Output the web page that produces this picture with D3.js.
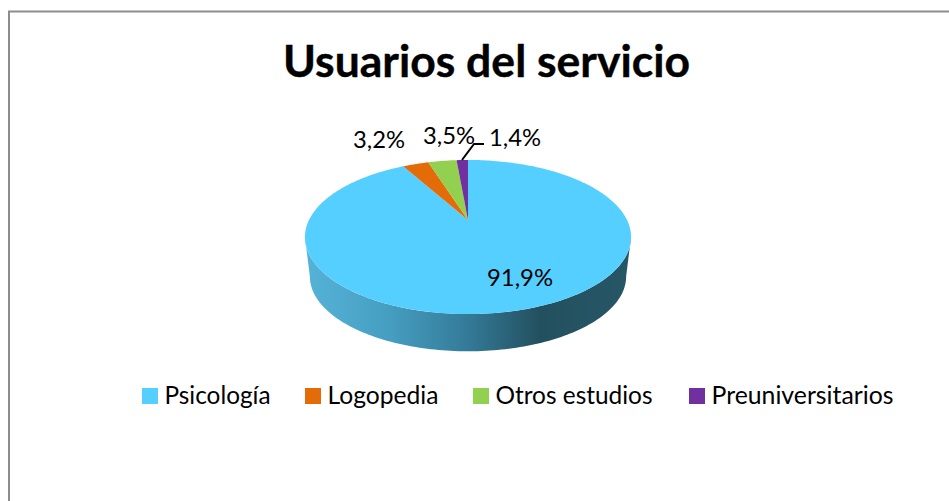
<!DOCTYPE html>
<html><head><meta charset="utf-8">
<script src="https://cdn.jsdelivr.net/npm/d3@7"></script>
<style>html,body{margin:0;padding:0;background:#fff}svg{display:block}text{font-family:Lato,"Open Sans",sans-serif;fill:#000}</style>
</head><body><svg id="c" width="949" height="501"></svg>
<script>
const titleText = "Usuarios del servicio";
const categories = ["Psicología","Logopedia","Otros estudios","Preuniversitarios"];
const shares = [91.9,3.2,3.5,1.4];
const labels = ["91,9%","3,2%","3,5%","1,4%"];
const colors = ["#55cfff","#e36c09","#92d050","#7030a0"];

const svg = d3.select("#c");
// frame
svg.append("path").attr("d","M9 501V11.5H949").attr("fill","none").attr("stroke","#8c8c8c").attr("stroke-width",2);

svg.append("text").attr("x",486.5).attr("y",77).attr("text-anchor","middle")
  .attr("font-size",44).attr("font-weight",700).attr("stroke","#000").attr("stroke-width",0.4)
  .attr("textLength",407).attr("lengthAdjust","spacingAndGlyphs").text(titleText);

// perspective projection of the pie plane
const cx=468, cy=220, A=159, B=73.3, p=0.221;
function proj(a,s=1,dy=0){const X=Math.sin(a),Y=Math.cos(a),w=1+p*Y;return [cx+s*A*X/w, cy+dy-s*B*Y/w];}
function rim(a0,a1,s=1,dy=0){const n=Math.max(2,Math.ceil(Math.abs(a1-a0)/0.02));return d3.range(n+1).map(i=>proj(a0+(a1-a0)*i/n,s,dy));}
const line=d3.line();

const arcs=d3.pie().sort(null).value(d=>d).startAngle(0).endAngle(2*Math.PI)(shares);

// side wall
const defs=svg.append("defs");
const g=defs.append("linearGradient").attr("id","side").attr("gradientUnits","userSpaceOnUse").attr("x1",305).attr("x2",631).attr("y1",0).attr("y2",0);
[[0,"#55b3d8"],[0.25,"#469fc2"],[0.5,"#347a98"],[0.72,"#23505f"],[1,"#265767"]].forEach(([o,c])=>g.append("stop").attr("offset",o).attr("stop-color",c));
const aL=Math.PI+Math.acos(p), aR=Math.PI-Math.acos(p);
const sidePts=rim(aR,aL,1,0).concat(rim(aL,aR,0.97,40));
svg.append("path").attr("d",line(sidePts)+"Z").attr("fill","url(#side)");

// top slices
svg.selectAll("path.slice").data(arcs).join("path").attr("class","slice")
  .attr("d",d=>line([[cx,cy],...rim(d.startAngle,d.endAngle)])+"Z")
  .attr("fill",(d,i)=>colors[i]);

// data labels
const labelPos=[[520,286],[379,147.5],[449,143.5],[515,146]];
svg.selectAll("text.lab").data(labels).join("text").attr("class","lab")
  .attr("x",(d,i)=>labelPos[i][0]).attr("y",(d,i)=>labelPos[i][1]).attr("text-anchor","middle")
  .attr("font-size",24).attr("textLength",(d,i)=>i===0?66:52).attr("lengthAdjust","spacingAndGlyphs").text(d=>d);
svg.append("path").attr("d","M462 160L474 144H484").attr("fill","none").attr("stroke","#000").attr("stroke-width",2);

// legend
const legendX=[142,305,473,689];
const legendTextW=[106,111,157,182];
const lg=svg.selectAll("g.lg").data(categories).join("g").attr("class","lg").attr("transform",(d,i)=>`translate(${legendX[i]},0)`);
lg.append("rect").attr("y",388).attr("width",16).attr("height",16).attr("fill",(d,i)=>colors[i]);
lg.append("text").attr("x",22.5).attr("y",403.5).attr("font-size",25)
  .attr("textLength",(d,i)=>legendTextW[i]).attr("lengthAdjust","spacingAndGlyphs").text(d=>d);
</script></body></html>
